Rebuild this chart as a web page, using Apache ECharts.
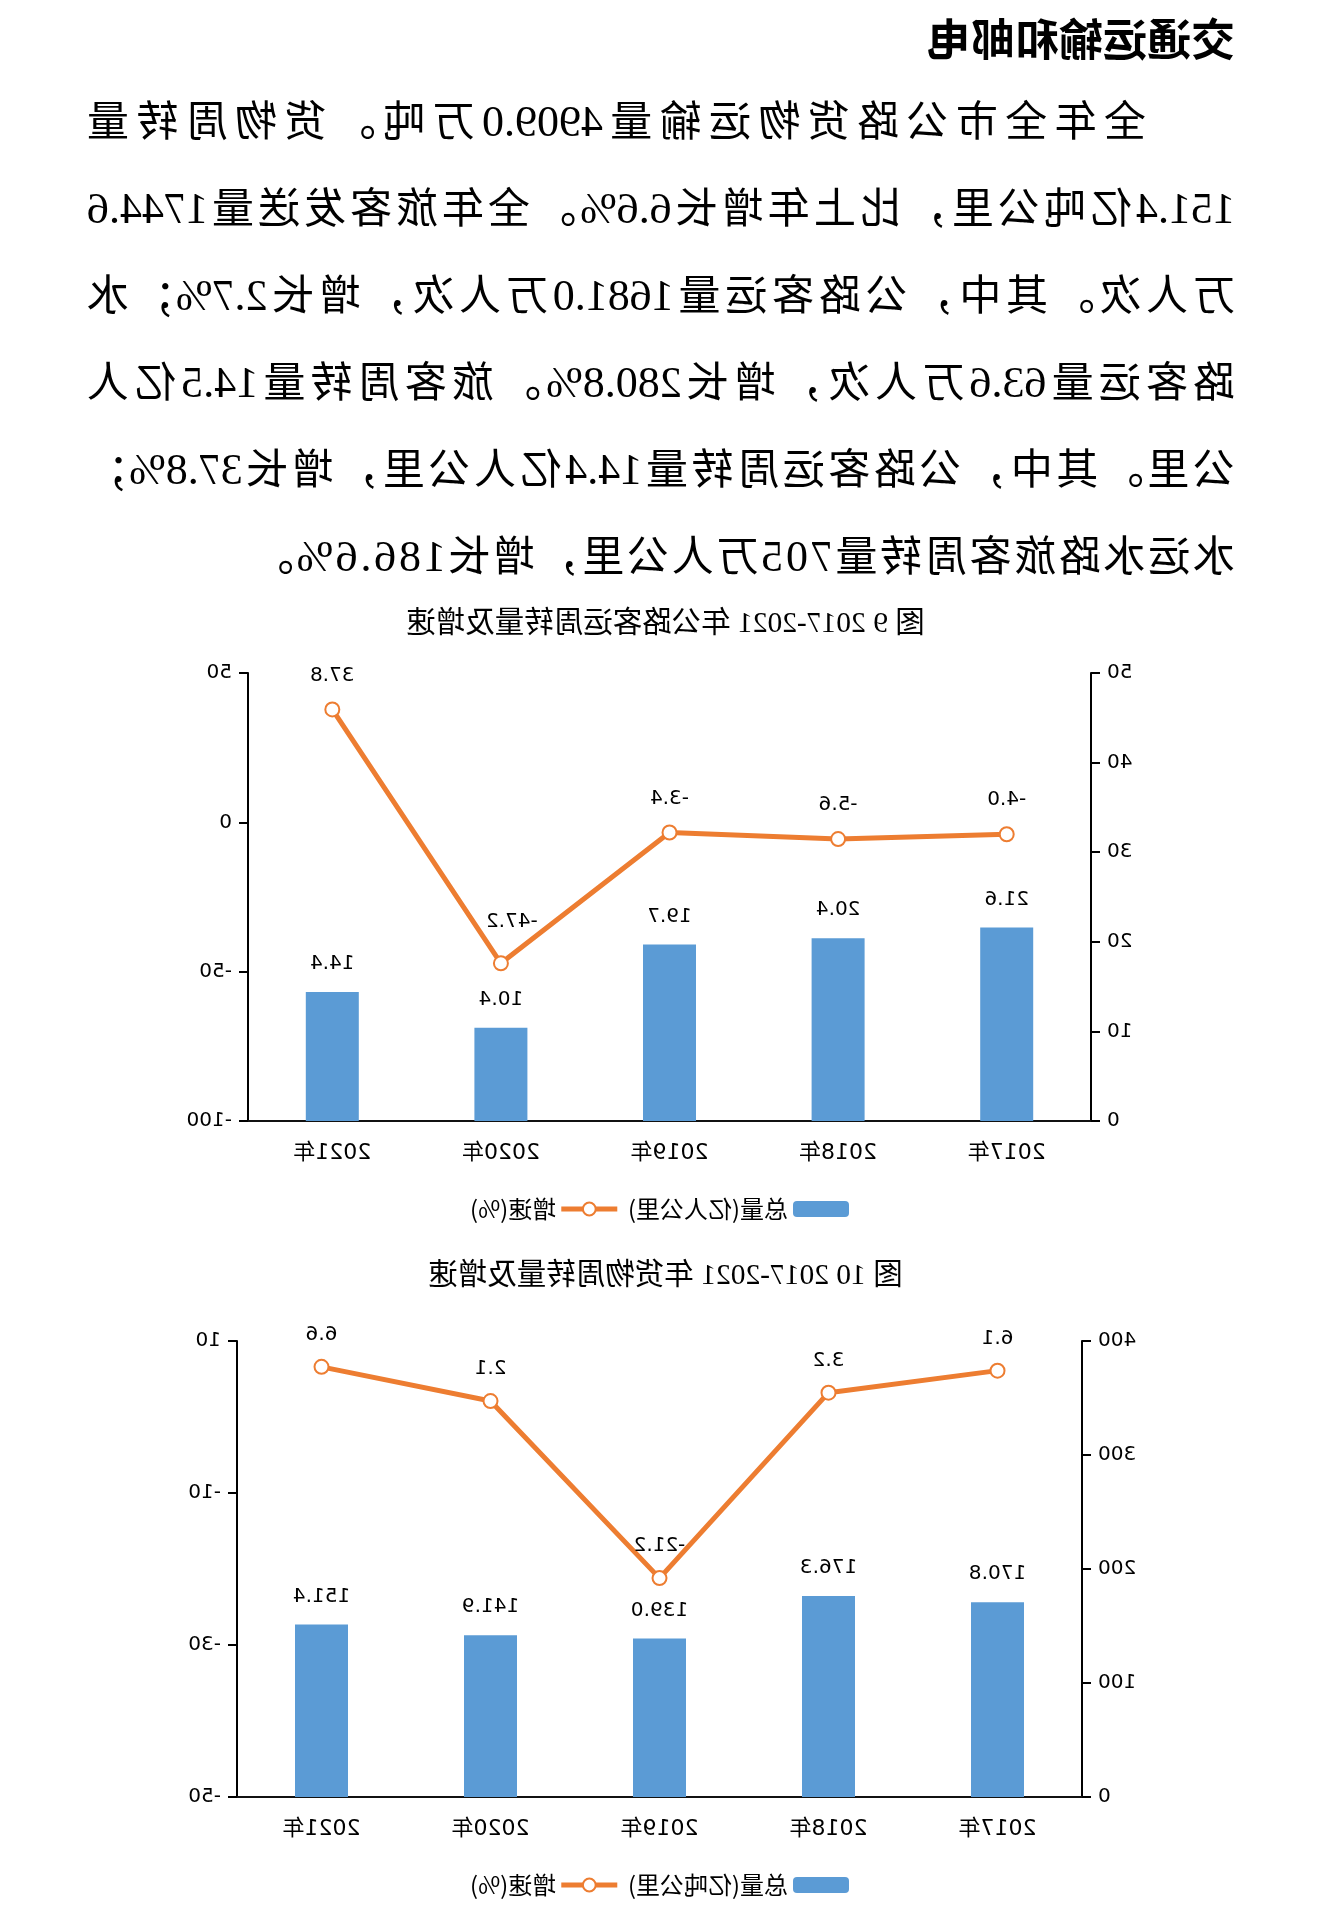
<!DOCTYPE html>
<html>
<head>
<meta charset="utf-8">
<script src="https://cdn.jsdelivr.net/npm/echarts@6/dist/echarts.min.js"></script>
<style>
html,body{margin:0;padding:0;background:#fff;}
#page{position:relative;width:1323px;height:1912px;transform:scaleX(-1);transform-origin:center center;overflow:hidden;background:#fff;}
#chart{position:absolute;left:0;top:0;width:1323px;height:1912px;}
.head{position:absolute;left:88px;top:13px;font-family:"Noto Sans CJK SC";font-weight:700;font-size:44px;line-height:48px;color:#000;white-space:nowrap;}
.ln{position:absolute;left:88px;width:1148px;font-family:"Liberation Serif","Noto Sans CJK SC";font-size:42px;line-height:42px;color:#000;text-align:justify;text-align-last:justify;}
.ln .num{font-size:44px;}
.ln.first{left:177px;width:1059px;}
.ln.last{text-align:left;text-align-last:left;letter-spacing:2.7px;width:auto;white-space:nowrap;}
.cap{position:absolute;left:0;width:1315px;text-align:center;font-family:"Liberation Serif","Noto Sans CJK SC";font-size:29.5px;line-height:30px;color:#000;white-space:nowrap;}
</style>
</head>
<body>
<div id="page">
  <div id="chart"></div>
  <div class="head" id="head"></div>
  <div id="para"></div>
  <div class="cap" id="cap1" style="top:607px"></div>
  <div class="cap" id="cap2" style="top:1259px"></div>
</div>
<script>
// ---- text ----
const headingText = '交通运输和邮电';
const paragraphLines = [
  '全年全市公路货物运输量4909.0万吨。货物周转量',
  '151.4亿吨公里，比上年增长6.6%。全年旅客发送量1744.6',
  '万人次。其中，公路客运量1681.0万人次，增长2.7%；水',
  '路客运量63.6万人次，增长280.8%。旅客周转量14.5亿人',
  '公里。其中，公路客运周转量14.4亿人公里，增长37.8%；',
  '水运水路旅客周转量705万人公里，增长186.6%。'
];
const caption1 = '图 9 2017-2021 年公路客运周转量及增速';
const caption2 = '图 10 2017-2021 年货物周转量及增速';

// ---- data ----
const categories = ['2017年', '2018年', '2019年', '2020年', '2021年'];
const passengerTotal = [21.6, 20.4, 19.7, 10.4, 14.4];
const passengerGrowth = [-4.0, -5.6, -3.4, -47.2, 37.8];
const freightTotal = [170.8, 176.3, 139.0, 141.9, 151.4];
const freightGrowth = [6.1, 3.2, -21.2, 2.1, 6.6];
const passengerTotalName = '总量(亿人公里)';
const freightTotalName = '总量(亿吨公里)';
const growthName = '增速(%)';

// ---- html text ----
document.getElementById('head').textContent = headingText;
document.getElementById('cap1').textContent = caption1;
document.getElementById('cap2').textContent = caption2;
const lineCenters = [123, 210, 297, 384, 471, 558];
const para = document.getElementById('para');
function esc(s) { return s.replace(/&/g, '&amp;').replace(/</g, '&lt;'); }
paragraphLines.forEach((t, i) => {
  const d = document.createElement('div');
  d.className = 'ln' + (i === 0 ? ' first' : '') + (i === paragraphLines.length - 1 ? ' last' : '');
  d.style.top = (lineCenters[i] - 22) + 'px';
  d.innerHTML = esc(t).replace(/([0-9.%]+)/g, '<span class="num">$1</span>');
  para.appendChild(d);
});

// ---- chart ----
const BLUE = '#5B9BD5';
const ORANGE = '#ED7D31';
const FONT = "'DejaVu Sans', 'Noto Sans CJK SC', sans-serif";
const fmt1 = v => Number(v).toFixed(1);

function yAxisCommon(gridIndex, min, max, interval, position) {
  return {
    type: 'value', gridIndex: gridIndex, min: min, max: max, interval: interval, position: position,
    axisLine: { show: true, onZero: false, lineStyle: { color: '#000', width: 2 } },
    axisTick: { show: true, length: 9, lineStyle: { color: '#000', width: 2 } },
    axisLabel: { margin: 16, fontFamily: FONT, fontSize: 20, color: '#000' },
    splitLine: { show: false }
  };
}
function xAxisCommon(gridIndex) {
  return {
    type: 'category', gridIndex: gridIndex, data: categories, boundaryGap: true,
    axisLine: { show: true, lineStyle: { color: '#111', width: 2 } },
    axisTick: { show: false },
    axisLabel: { margin: 21, fontFamily: FONT, fontSize: 22, color: '#000' }
  };
}
function lineItems(values, special) {
  return values.map((v, i) => {
    const item = { value: v };
    if (special && special[i]) item.label = { offset: special[i] };
    return item;
  });
}
function legendCfg(top, names) {
  return {
    left: 474, top: top, padding: 0, itemWidth: 56, itemHeight: 16, itemGap: 8,
    lineStyle: { width: 5 },
    textStyle: { fontFamily: "'Noto Sans CJK SC'", fontSize: 24, color: '#000' },
    data: names
  };
}
const labelCfg = (dist) => ({ show: true, position: 'top', distance: dist, fontFamily: FONT, fontSize: 20, color: '#000', formatter: p => fmt1(p.value) });

const chart = echarts.init(document.getElementById('chart'), null, { renderer: 'canvas' });
chart.setOption({
  backgroundColor: 'transparent',
  animation: false,
  grid: [
    { left: 232, right: 248, top: 673, height: 448, containLabel: false },
    { left: 241, right: 237, top: 1341, height: 456, containLabel: false }
  ],
  xAxis: [xAxisCommon(0), xAxisCommon(1)],
  yAxis: [
    yAxisCommon(0, 0, 50, 10, 'left'),
    yAxisCommon(0, -100, 50, 50, 'right'),
    yAxisCommon(1, 0, 400, 100, 'left'),
    yAxisCommon(1, -50, 10, 20, 'right')
  ],
  legend: [
    legendCfg(1197, [passengerTotalName, growthName + ' ']),
    legendCfg(1873, [freightTotalName, growthName])
  ],
  series: [
    {
      name: passengerTotalName, type: 'bar', xAxisIndex: 0, yAxisIndex: 0, data: passengerTotal,
      barWidth: 53, itemStyle: { color: BLUE }, label: labelCfg(18)
    },
    {
      name: growthName + ' ', type: 'line', xAxisIndex: 0, yAxisIndex: 1,
      data: lineItems(passengerGrowth, { 3: [-11, -8] }),
      symbol: 'emptyCircle', symbolSize: 14, lineStyle: { color: ORANGE, width: 5 },
      itemStyle: { color: ORANGE, borderColor: ORANGE, borderWidth: 2 },
      label: labelCfg(16), z: 5
    },
    {
      name: freightTotalName, type: 'bar', xAxisIndex: 1, yAxisIndex: 2, data: freightTotal,
      barWidth: 53, itemStyle: { color: BLUE }, label: labelCfg(18)
    },
    {
      name: growthName, type: 'line', xAxisIndex: 1, yAxisIndex: 3,
      data: lineItems(freightGrowth, null),
      symbol: 'emptyCircle', symbolSize: 14, lineStyle: { color: ORANGE, width: 5 },
      itemStyle: { color: ORANGE, borderColor: ORANGE, borderWidth: 2 },
      label: labelCfg(14), z: 5
    }
  ]
});
</script>
</body>
</html>
